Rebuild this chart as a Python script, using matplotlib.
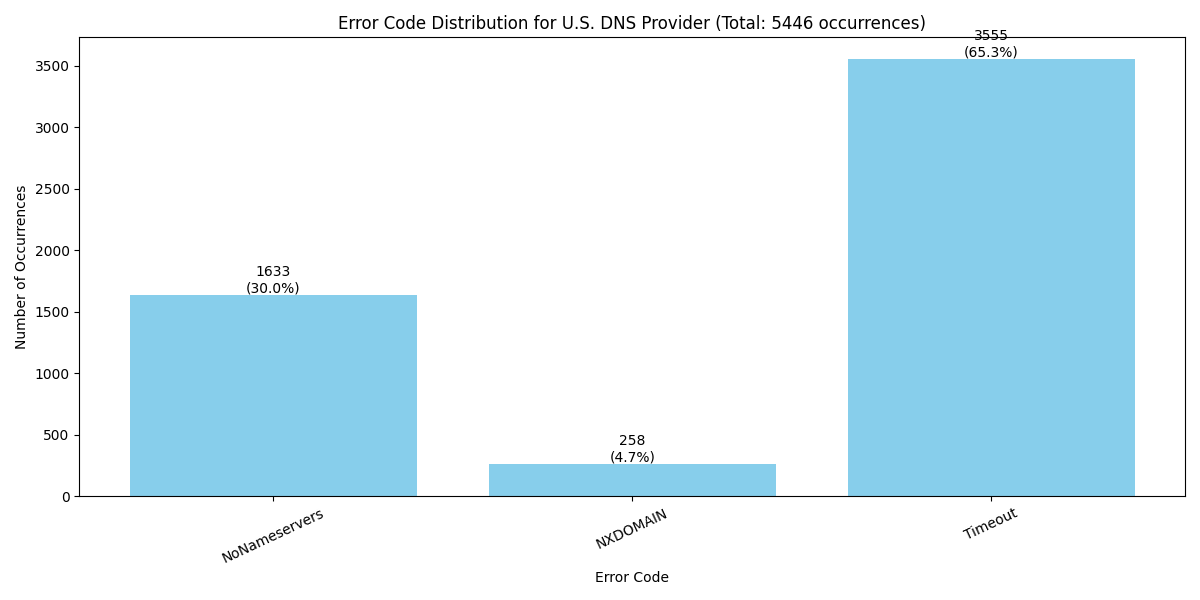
import matplotlib.pyplot as plt

codes = ['NoNameservers', 'NXDOMAIN', 'Timeout']
counts = [1633, 258, 3555]
total = sum(counts)

fig, ax = plt.subplots(figsize=(12, 6), dpi=100)
bars = ax.bar(codes, counts, color='skyblue')
for b, c in zip(bars, counts):
    ax.text(b.get_x() + b.get_width() / 2, b.get_height(),
            f'{c}\n({c / total * 100:.1f}%)', ha='center', va='bottom')
ax.set_title(f'Error Code Distribution for U.S. DNS Provider (Total: {total} occurrences)')
ax.set_xlabel('Error Code')
ax.set_ylabel('Number of Occurrences')
plt.xticks(rotation=25)
plt.tight_layout()
plt.savefig('out.png')
